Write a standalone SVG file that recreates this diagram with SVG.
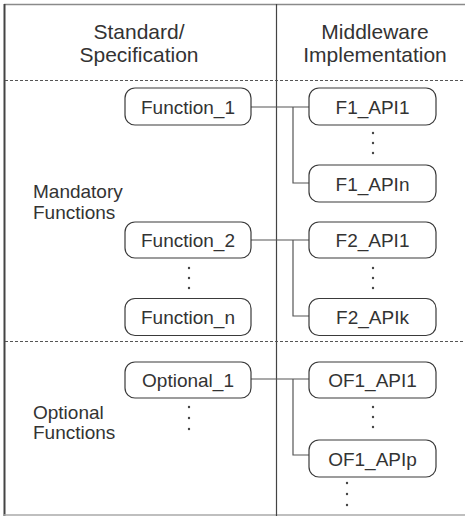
<svg xmlns="http://www.w3.org/2000/svg" width="465" height="516" viewBox="0 0 465 516">
<style>
  .box { fill: #ffffff; stroke: #3a3a3a; stroke-width: 1.2; }
  .lbl { font-family: "Liberation Sans", Arial, sans-serif; font-size: 19px; fill: #333333; text-anchor: middle; }
  .side { font-family: "Liberation Sans", Arial, sans-serif; font-size: 19px; fill: #333333; }
  .head { font-family: "Liberation Sans", Arial, sans-serif; font-size: 21px; fill: #333333; text-anchor: middle; }
  .conn { fill: none; stroke: #555555; stroke-width: 1.2; }
  .dash { stroke: #555555; stroke-width: 1; stroke-dasharray: 3 2; }
  .dot { fill: #444444; }
</style>
<rect x="0" y="0" width="465" height="516" fill="#ffffff"/>
<g id="frame">
  <line x1="4" y1="4.5" x2="465" y2="4.5" stroke="#8a8a8a" stroke-width="1.5"/>
  <line x1="4.5" y1="4" x2="4.5" y2="516" stroke="#444444" stroke-width="2"/>
  <line x1="4" y1="515" x2="465" y2="515" stroke="#aaaaaa" stroke-width="1.5"/>
  <line x1="276.5" y1="4" x2="276.5" y2="516" stroke="#444444" stroke-width="1.2"/>
  <line class="dash" x1="5" y1="80.5" x2="465" y2="80.5"/>
  <line class="dash" x1="5" y1="341.5" x2="465" y2="341.5"/>
</g>
<g id="headers">
  <text class="head" x="139" y="39">Standard/</text>
  <text class="head" x="139" y="62">Specification</text>
  <text class="head" x="375" y="39">Middleware</text>
  <text class="head" x="375" y="62">Implementation</text>
</g>
<g id="section-labels">
  <text class="side" x="33" y="198">Mandatory</text>
  <text class="side" x="33" y="219">Functions</text>
  <text class="side" x="33" y="419">Optional</text>
  <text class="side" x="33" y="439">Functions</text>
</g>
<g id="connectors">
  <path class="conn" d="M251 107 H309 M293 107 V183 H309"/>
  <path class="conn" d="M251 240 H309 M293 240 V316 H309"/>
  <path class="conn" d="M247 379 H309 M293 379 V455 H309"/>
</g>
<g id="ellipses">
  <circle class="dot" cx="373" cy="133" r="1.2"/><circle class="dot" cx="373" cy="143" r="1.2"/><circle class="dot" cx="373" cy="153" r="1.2"/>
  <circle class="dot" cx="373" cy="268" r="1.2"/><circle class="dot" cx="373" cy="278" r="1.2"/><circle class="dot" cx="373" cy="288" r="1.2"/>
  <circle class="dot" cx="189" cy="268" r="1.2"/><circle class="dot" cx="189" cy="278" r="1.2"/><circle class="dot" cx="189" cy="288" r="1.2"/>
  <circle class="dot" cx="373" cy="407" r="1.2"/><circle class="dot" cx="373" cy="417" r="1.2"/><circle class="dot" cx="373" cy="427" r="1.2"/>
  <circle class="dot" cx="189" cy="407" r="1.2"/><circle class="dot" cx="189" cy="418" r="1.2"/><circle class="dot" cx="189" cy="429" r="1.2"/>
  <circle class="dot" cx="347" cy="483" r="1.2"/><circle class="dot" cx="347" cy="494" r="1.2"/><circle class="dot" cx="347" cy="505" r="1.2"/>
</g>
<g id="function_1"><rect class="box" x="125" y="88" width="126" height="37" rx="10"/><text class="lbl" x="188" y="113.5">Function_1</text></g>
<g id="f1_api1"><rect class="box" x="309" y="88" width="127" height="37" rx="10"/><text class="lbl" x="372.5" y="113.5">F1_API1</text></g>
<g id="f1_apin"><rect class="box" x="309" y="165" width="127" height="37" rx="10"/><text class="lbl" x="372.5" y="190.5">F1_APIn</text></g>
<g id="function_2"><rect class="box" x="125" y="222" width="126" height="36" rx="10"/><text class="lbl" x="188" y="246.8">Function_2</text></g>
<g id="f2_api1"><rect class="box" x="309" y="222" width="127" height="36" rx="10"/><text class="lbl" x="372.5" y="246.8">F2_API1</text></g>
<g id="function_n"><rect class="box" x="125" y="298.5" width="126" height="37" rx="10"/><text class="lbl" x="188" y="324">Function_n</text></g>
<g id="f2_apik"><rect class="box" x="309" y="298.5" width="127" height="37" rx="10"/><text class="lbl" x="372.5" y="324">F2_APIk</text></g>
<g id="optional_1"><rect class="box" x="125" y="362" width="126" height="36" rx="10"/><text class="lbl" x="188" y="386.8">Optional_1</text></g>
<g id="of1_api1"><rect class="box" x="309" y="362" width="127" height="36" rx="10"/><text class="lbl" x="372.5" y="386.8">OF1_API1</text></g>
<g id="of1_apip"><rect class="box" x="309" y="440" width="127" height="37" rx="10"/><text class="lbl" x="372.5" y="465.5">OF1_APIp</text></g>
</svg>
